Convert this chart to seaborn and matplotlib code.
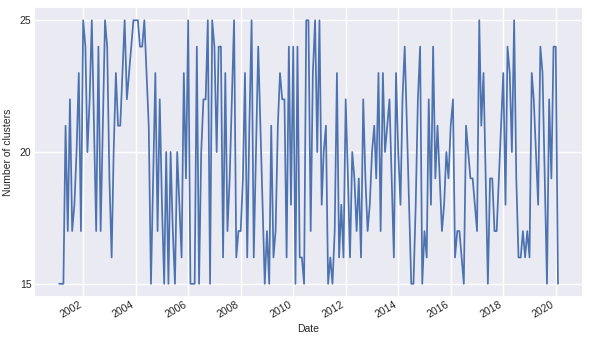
import pandas as pd
import matplotlib
matplotlib.use('Agg')
import matplotlib.pyplot as plt
import matplotlib.dates as mdates
import seaborn as sns

# monthly cluster counts, Feb 2001 .. Feb 2020
START_MONTH = '2001-02-01'
CLUSTERS = [
    15, 15, 15, 21, 17, 22, 17, 18, 20, 23, 17, 25, 24, 20, 22, 25, 21, 17, 24, 17,
    21, 25, 24, 19, 16, 20, 23, 21, 21, 23, 25, 22, 23, 24, 25, 25, 25, 24, 24, 25,
    23, 21, 15, 19, 23, 17, 22, 18, 15, 20, 15, 20, 17, 15, 20, 18, 16, 23, 19, 25,
    15, 15, 15, 24, 15, 20, 22, 22, 25, 15, 25, 24, 20, 24, 24, 16, 23, 17, 19, 22,
    25, 16, 17, 17, 19, 23, 16, 21, 25, 16, 20, 24, 21, 18, 15, 17, 15, 21, 16, 17,
    21, 23, 22, 22, 16, 24, 18, 24, 15, 24, 16, 16, 15, 25, 25, 17, 23, 25, 20, 25,
    18, 20, 21, 15, 16, 15, 17, 23, 16, 18, 16, 22, 19, 16, 20, 19, 17, 19, 16, 22,
    19, 17, 18, 20, 21, 19, 23, 17, 23, 20, 21, 22, 19, 16, 23, 20, 18, 22, 24, 21,
    18, 15, 15, 18, 22, 24, 15, 17, 16, 22, 18, 24, 19, 21, 19, 17, 18, 20, 19, 21,
    22, 16, 17, 17, 16, 15, 21, 20, 19, 19, 18, 17, 25, 21, 23, 19, 15, 19, 19, 17,
    17, 19, 21, 23, 18, 24, 23, 20, 25, 19, 16, 16, 17, 16, 17, 16, 23, 22, 20, 18,
    24, 23, 19, 15, 22, 19, 24, 24, 15,
]
Y_TICKS = [15, 20, 25]


def get_figure_data():
    dates = pd.date_range(START_MONTH, periods=len(CLUSTERS), freq='MS')
    df = pd.DataFrame({'Date': dates, 'Number of clusters': CLUSTERS})
    return df


def draw_figure(df):
    sns.set_theme(style='darkgrid')
    plt.rcParams['font.family'] = ['Liberation Sans', 'DejaVu Sans']
    fig = plt.figure(figsize=(5.9, 3.39), dpi=100)
    ax = fig.add_axes([0.058, 0.124, 0.93, 0.855])
    sns.lineplot(x='Date', y='Number of clusters', data=df, ax=ax,
                 color='#4C72B0', linewidth=1.25)

    ax.xaxis.set_major_locator(mdates.YearLocator(2))
    ax.xaxis.set_major_formatter(mdates.DateFormatter('%Y'))
    ax.set_yticks(Y_TICKS)
    ax.tick_params(axis='both', labelsize=7.5, length=0, pad=2)
    for lbl in ax.get_xticklabels():
        lbl.set_rotation(30)
        lbl.set_ha('right')
    ax.set_xlabel('Date', fontsize=7.5, labelpad=3)
    ax.set_ylabel('Number of clusters', fontsize=7.5, labelpad=5)

    fig.savefig('out.png', dpi=100)


def main():
    df = get_figure_data()
    draw_figure(df)


if __name__ == '__main__':
    main()
